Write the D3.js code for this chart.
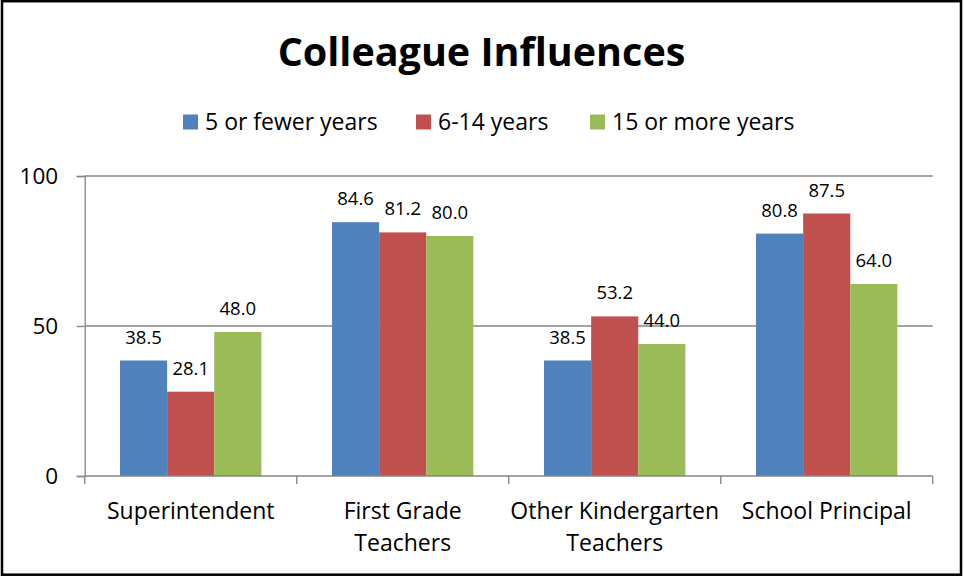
<!DOCTYPE html>
<html>
<head>
<meta charset="utf-8">
<script src="https://cdn.jsdelivr.net/npm/d3@7"></script>
<style>
  body { margin: 0; background: #fff; }
  text { font-family: "Open Sans", "DejaVu Sans", sans-serif; fill: #000; }
</style>
</head>
<body>
<div class="canvas-container"></div>
<script>
var categories = [["Superintendent"], ["First Grade", "Teachers"], ["Other Kindergarten", "Teachers"], ["School Principal"]];
var seriesNames = ["5 or fewer years", "6-14 years", "15 or more years"];
var seriesColors = ["#4F81BD", "#C0504D", "#9BBB59"];
var fewerYears = [38.5, 84.6, 38.5, 80.8];
var midYears = [28.1, 81.2, 53.2, 87.5];
var moreYears = [48.0, 80.0, 44.0, 64.0];
var yTicks = [0, 50, 100];

var width = 964, height = 577;
var plot = { left: 84.7, right: 932.7, top: 176, bottom: 476 };
var gridColor = "#868686";

var svg = d3.select("div.canvas-container")
    .append("svg")
    .attr("width", width)
    .attr("height", height);

svg.append("rect")
    .attr("width", width).attr("height", height)
    .attr("fill", "#fff");

// outer frame
svg.append("rect")
    .attr("x", 2).attr("y", 1.2)
    .attr("width", 959).attr("height", 573.5)
    .attr("fill", "none")
    .attr("stroke", "#000")
    .attr("stroke-width", 2.5);

var catKeys = categories.map(function (c) { return c.join(" "); });
var seriesData = [fewerYears, midYears, moreYears];

var x0 = d3.scaleBand()
    .domain(catKeys)
    .range([plot.left, plot.right]);

var bw = x0.bandwidth();
var barW = bw / 4.5;
var x1 = d3.scaleBand()
    .domain(seriesNames)
    .range([barW * 0.75, bw - barW * 0.75]);

var y = d3.scaleLinear()
    .domain([0, 100])
    .range([plot.bottom, plot.top]);

// gridlines
svg.append("g")
    .selectAll("line")
    .data(yTicks.filter(function (t) { return t > 0; }))
    .enter()
    .append("line")
    .attr("x1", plot.left).attr("x2", plot.right)
    .attr("y1", function (d) { return y(d); })
    .attr("y2", function (d) { return y(d); })
    .attr("stroke", gridColor)
    .attr("stroke-width", 1.3);

// y axis
var yAxis = svg.append("g")
    .attr("transform", "translate(" + plot.left + ",0)")
    .call(d3.axisLeft(y).tickValues(yTicks).tickSize(8).tickPadding(18.5));
yAxis.select(".domain").attr("stroke", gridColor).attr("stroke-width", 1.3);
yAxis.selectAll(".tick line").attr("stroke", gridColor).attr("stroke-width", 1.3);
yAxis.selectAll(".tick text")
    .style("font-size", "22.5px")
    .style("font-family", "'Open Sans', sans-serif")
    .attr("fill", "#000");

// bars
var groups = svg.append("g")
    .selectAll("g")
    .data(seriesData)
    .enter()
    .append("g")
    .attr("fill", function (d, i) { return seriesColors[i]; });

groups.each(function (vals, si) {
    var g = d3.select(this);
    g.selectAll("rect")
        .data(vals)
        .enter()
        .append("rect")
        .attr("x", function (d, ci) { return x0(catKeys[ci]) + x1(seriesNames[si]); })
        .attr("width", x1.bandwidth())
        .attr("y", function (d) { return y(d); })
        .attr("height", function (d) { return y(0) - y(d); });

    g.selectAll("text")
        .data(vals)
        .enter()
        .append("text")
        .attr("x", function (d, ci) { return x0(catKeys[ci]) + x1(seriesNames[si]) + x1.bandwidth() / 2; })
        .attr("y", function (d) { return y(d) - 17; })
        .attr("text-anchor", "middle")
        .style("font-size", "18.5px")
        .text(function (d) { return d.toFixed(1); });
});

// x axis line and ticks between categories
svg.append("line")
    .attr("x1", plot.left).attr("x2", plot.right)
    .attr("y1", plot.bottom).attr("y2", plot.bottom)
    .attr("stroke", gridColor).attr("stroke-width", 1.3);

var tickXs = catKeys.map(function (k) { return x0(k); }).concat([x0(catKeys[catKeys.length - 1]) + bw]);
svg.append("g")
    .selectAll("line")
    .data(tickXs)
    .enter()
    .append("line")
    .attr("x1", function (d) { return d; }).attr("x2", function (d) { return d; })
    .attr("y1", plot.bottom).attr("y2", plot.bottom + 8)
    .attr("stroke", gridColor).attr("stroke-width", 1.3);

// category labels
var catLabels = svg.append("g")
    .selectAll("text")
    .data(categories)
    .enter()
    .append("text")
    .attr("text-anchor", "middle")
    .style("font-size", "23px")
    .attr("transform", function (d, i) { return "translate(" + (x0(catKeys[i]) + bw / 2) + ",519)"; });

catLabels.selectAll("tspan")
    .data(function (d) { return d; })
    .enter()
    .append("tspan")
    .attr("x", 0)
    .attr("y", function (d, i) { return i * 31.5; })
    .text(function (d) { return d; });

// title
svg.append("text")
    .attr("x", 481.5).attr("y", 66)
    .attr("text-anchor", "middle")
    .style("font-size", "39.5px")
    .style("font-weight", "bold")
    .text("Colleague Influences");

// legend
var legendX = [183, 416, 590];
var legend = svg.append("g")
    .selectAll("g")
    .data(seriesNames)
    .enter()
    .append("g")
    .attr("transform", function (d, i) { return "translate(" + legendX[i] + ",114.5)"; });

legend.append("rect")
    .attr("width", 15).attr("height", 15)
    .attr("fill", function (d, i) { return seriesColors[i]; });

legend.append("text")
    .attr("x", 22).attr("y", 15.5)
    .style("font-size", "23px")
    .text(function (d) { return d; });
</script>
</body>
</html>
